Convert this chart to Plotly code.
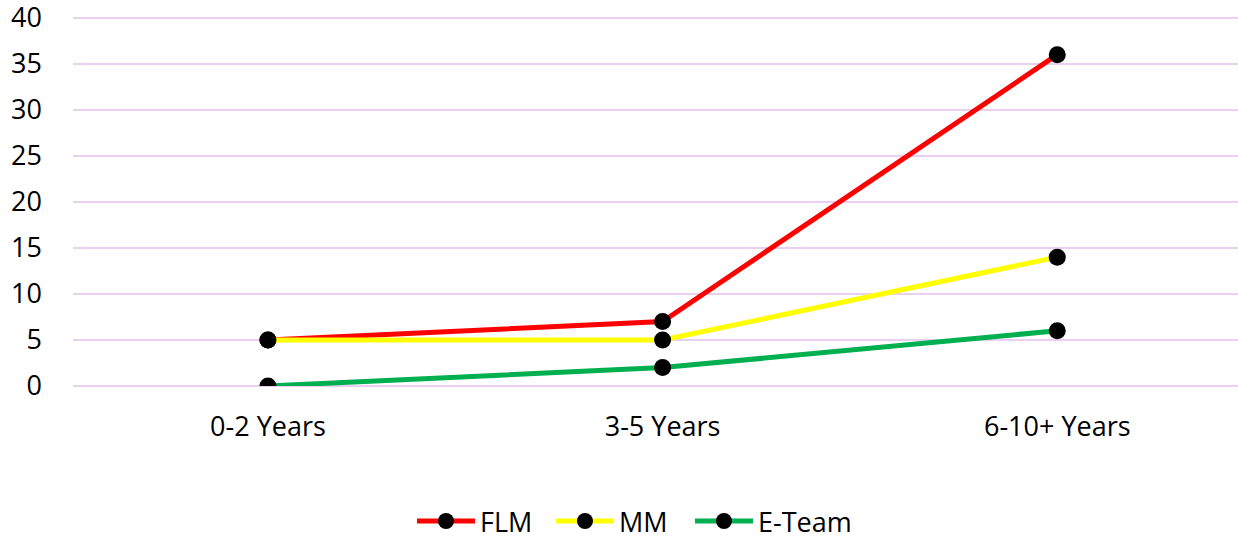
import plotly.graph_objects as go

categories = ["0-2 Years", "3-5 Years", "6-10+ Years"]
flm = [5, 7, 36]
mm = [5, 5, 14]
eteam = [0, 2, 6]
y_ticks = [0, 5, 10, 15, 20, 25, 30, 35, 40]

series = [("FLM", flm, "#FF0000"), ("MM", mm, "#FFFF00"), ("E-Team", eteam, "#00B050")]
legend_ids = ["legend", "legend2", "legend3"]
legend_x = [0.2910, 0.4103, 0.5296]

fig = go.Figure()
for (name, vals, col), lid in zip(series, legend_ids):
    fig.add_trace(go.Scatter(
        x=categories, y=vals, name=name, mode="lines+markers",
        line=dict(color=col, width=5),
        marker=dict(color="black", size=17),
        legend=lid,
    ))

legend_style = dict(orientation="h", xanchor="left", y=-0.366, yanchor="middle",
                    font=dict(size=27), itemwidth=58, bgcolor="rgba(0,0,0,0)")

fig.update_layout(
    width=1238, height=538,
    margin=dict(l=73, r=0, t=16, b=152, autoexpand=False),
    paper_bgcolor="white", plot_bgcolor="white",
    font=dict(family="Open Sans", size=27, color="black"),
    showlegend=True,
    legend=dict(x=legend_x[0], **legend_style),
    legend2=dict(x=legend_x[1], **legend_style),
    legend3=dict(x=legend_x[2], **legend_style),
    xaxis=dict(type="category", range=[-0.494, 2.458], showgrid=False, showline=False,
               zeroline=False, ticks="", ticklabelstandoff=22, automargin=False),
    yaxis=dict(range=[0, 40.2], tickvals=y_ticks, showgrid=True, gridcolor="#EBCFF0",
               gridwidth=1.5, zeroline=True, zerolinecolor="#EBCFF0", zerolinewidth=1.5,
               showline=False, ticks="", ticklabelstandoff=30, automargin=False,
               ticklabeloverflow="allow"),
)

# remove the default 8px page margin so the figure fills the window exactly
fig.write_html("out.html", config={"displayModeBar": False},
               post_script="document.body.style.margin='0';document.body.style.overflow='hidden';")
